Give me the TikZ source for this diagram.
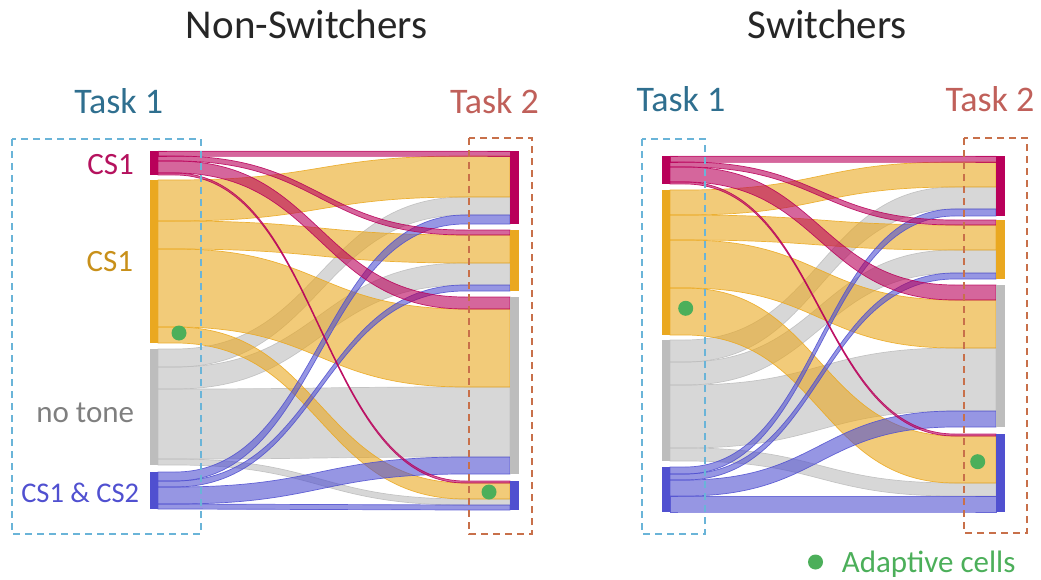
\documentclass[tikz,border=0pt]{standalone}
\usepackage{fontspec}
\setmainfont{Carlito}
\definecolor{cMag}{RGB}{185,0,90}
\definecolor{cOra}{RGB}{234,168,32}
\definecolor{cGra}{RGB}{189,189,189}
\definecolor{cBlu}{RGB}{80,80,208}
\definecolor{tMag}{RGB}{181,18,94}
\definecolor{tOra}{RGB}{200,144,26}
\definecolor{tGra}{RGB}{127,127,127}
\definecolor{tBlu}{RGB}{80,80,208}
\definecolor{tOne}{RGB}{47,111,143}
\definecolor{tTwo}{RGB}{192,96,90}
\definecolor{bOne}{RGB}{106,180,216}
\definecolor{bTwo}{RGB}{200,112,74}
\definecolor{cGrn}{RGB}{76,175,90}
\newcommand\flw[4]{%
  \path[fill=#1, fill opacity=.6, draw=#1, draw opacity=.85, line width=.7pt]
   (\XL,#2) -- (\XA,#2) .. controls (\XM,#2) and (\XM,#3) .. (\XB,#3) -- (\XR,#3)
   -- (\XR,{#3+#4}) -- (\XB,{#3+#4}) .. controls (\XM,{#3+#4}) and (\XM,{#2+#4}) .. (\XA,{#2+#4}) -- (\XL,{#2+#4}) -- cycle;}
\newcommand\barL[3]{\fill[#1] ({\XL-8.5},#2) rectangle (\XL,#3);}
\newcommand\barR[3]{\fill[#1] (\XR,#2) rectangle ({\XR+8.5},#3);}
\tikzset{
  title/.style={font=\fontsize{41}{41}\selectfont, text=black!85, anchor=base, inner sep=0},
  task/.style={font=\fontsize{36}{36}\selectfont, anchor=base, inner sep=0},
  lab/.style={font=\fontsize{31}{31}\selectfont, anchor=base east, inner sep=0},
  boxone/.style={draw=bOne, line width=1.6pt, dash pattern=on 7pt off 5pt},
  boxtwo/.style={draw=bTwo, line width=1.6pt, dash pattern=on 7pt off 5pt},
  dot/.style={circle, fill=cGrn, minimum size=15pt, inner sep=0}
}
\begin{document}
\begin{tikzpicture}[x=1pt,y=-1pt]
\useasboundingbox (0,0) rectangle (1041,580);
% ---------------- Non-Switchers ----------------
\def\XL{158}\def\XR{510}\def\XA{175}\def\XB{465}\def\XM{320}
\flw{cGra}{349}{197}{18}
\flw{cGra}{367}{263}{22}
\flw{cGra}{389}{387}{70}
\flw{cGra}{459}{499}{6}
\flw{cOra}{180}{156}{41}
\flw{cOra}{221}{235}{28}
\flw{cOra}{249}{309}{78}
\flw{cOra}{327}{483}{16}
\flw{cBlu}{472}{215}{9}
\flw{cBlu}{481}{285}{6}
\flw{cBlu}{487}{457}{17}
\flw{cBlu}{504}{505}{5}
\flw{cMag}{151}{151}{5}
\flw{cMag}{156}{230}{5}
\flw{cMag}{161}{297}{12}
\flw{cMag}{173}{481}{2}
\barL{cMag}{151}{175}
\barL{cOra}{180}{343}
\barL{cGra}{349}{465}
\barL{cBlu}{472}{509}
\barR{cMag}{151}{224}
\barR{cOra}{230}{291}
\barR{cGra}{297}{474}
\barR{cBlu}{481}{510}
\node[dot] (d1) at (179,333) {};
\node[dot] (d2) at (489,492) {};
\draw[boxone] (12,139) rectangle (201,534);
\draw[boxtwo] (469,138) rectangle (532,534);
\node[title] (t1) at (306.7,38.3) {Non-Switchers};
\node[task, text=tOne] (k1) at (118.7,113.3) {Task 1};
\node[task, text=tTwo] (k2) at (494.5,113.3) {Task 2};
\node[lab, text=tMag] (l1) at (134,174.3) {CS1};
\node[lab, text=tOra] (l2) at (133.3,271.7) {CS1};
\node[lab, text=tGra] (l3) at (134.3,422.7) {no tone};
\node[lab, text=tBlu, font=\fontsize{28.5}{28.5}\selectfont] (l4) at (139.3,502.3) {CS1 \& CS2};
% ---------------- Switchers ----------------
\def\XL{670}\def\XR{996}\def\XA{685}\def\XB{955}\def\XM{820}
\flw{cGra}{340}{187}{22}
\flw{cGra}{362}{250}{23}
\flw{cGra}{385}{348}{63}
\flw{cGra}{448}{483}{13}
\flw{cOra}{190}{162}{25}
\flw{cOra}{215}{225}{25}
\flw{cOra}{240}{300}{48}
\flw{cOra}{288}{436}{47}
\flw{cBlu}{467}{209}{7}
\flw{cBlu}{474}{273}{6}
\flw{cBlu}{480}{411}{16}
\flw{cBlu}{496}{496}{16}
\flw{cMag}{156}{156}{6}
\flw{cMag}{162}{220}{5}
\flw{cMag}{167}{285}{15}
\flw{cMag}{182}{434}{2}
\barL{cMag}{156}{184}
\barL{cOra}{190}{335}
\barL{cGra}{340}{461}
\barL{cBlu}{467}{512}
\barR{cMag}{156}{216}
\barR{cOra}{220}{279}
\barR{cGra}{285}{427}
\barR{cBlu}{434}{512}
\node[dot] (d3) at (685.7,308.3) {};
\node[dot] (d4) at (977.7,461.7) {};
\draw[boxone] (642,139) rectangle (705,534);
\draw[boxtwo] (964,138) rectangle (1027,533);
\node[title] (t2) at (827.3,38.3) {Switchers};
\node[task, text=tOne] (k3) at (681,111.7) {Task 1};
\node[task, text=tTwo] (k4) at (990,111.7) {Task 2};
% legend
\node[dot] (d5) at (815.5,562) {};
\node[font=\fontsize{31}{31}\selectfont, text=cGrn, anchor=base west, inner sep=0] (lg) at (841.7,572.5) {Adaptive cells};
\end{tikzpicture}
\end{document}
